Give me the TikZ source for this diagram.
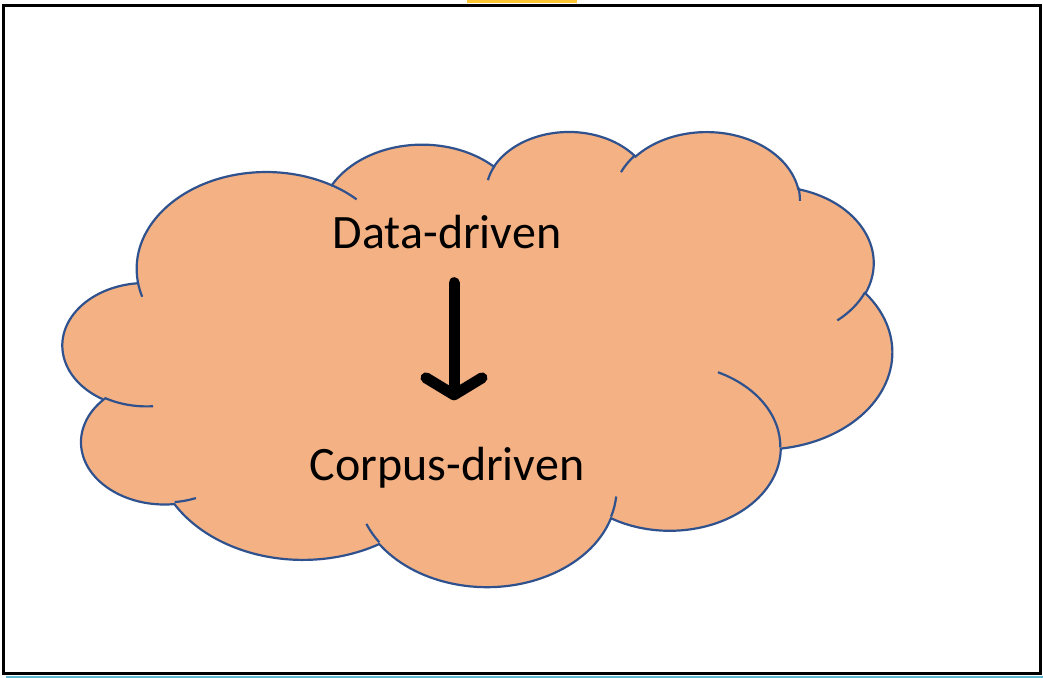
\documentclass[tikz,border=0pt]{standalone}
\usepackage{fontspec}
\setmainfont{Carlito}
\usetikzlibrary{arrows.meta}

\definecolor{cloudfill}{HTML}{F4B183}
\definecolor{cloudline}{HTML}{2F528F}
\definecolor{tabgold}{HTML}{FFC532}
\definecolor{rulecyan}{HTML}{5BB8D0}

% Elliptic arc whose start angle and sweep are visual angles
% (the ray from the centre), converted to parametric angles.
\newcommand\cldarc[4]{%
  \pgfextra{%
    \pgfmathsetmacro\cldda{atan2((#1)*sin(#3),(#2)*cos(#3))-(#3)}%
    \pgfmathsetmacro\cldsa{(#3)+\cldda-360*round(\cldda/360)}%
    \pgfmathsetmacro\clddb{atan2((#1)*sin((#3)+(#4)),(#2)*cos((#3)+(#4)))-((#3)+(#4))}%
    \pgfmathsetmacro\cldea{(#3)+(#4)+\clddb-360*round(\clddb/360)}%
    \global\let\cldsa\cldsa
    \global\let\cldea\cldea
  }%
  arc[start angle=\cldsa, end angle=\cldea, x radius=#1, y radius=#2]%
}

\tikzset{
  cloudedge/.style={draw=cloudline, line width=1.25pt},
  lbl/.style={inner sep=0pt, font=\fontsize{27.3}{32}\selectfont, text=black},
  conn/.style={line width=0.22cm, line cap=round, black,
    -{Straight Barb[length=0.34cm, width=1.12cm, round]}},
}

\begin{document}
\begin{tikzpicture}[x={(0.02cm,0)}, y={(0,-0.02cm)}]
  % canvas
  \fill[white] (0,0) rectangle (1043,678);
  \useasboundingbox (0,0) rectangle (1043,678);

  % slide fragments around the frame
  \fill[tabgold] (467,0) rectangle (577,3.5);
  \draw[rulecyan, line width=0.04cm] (6,676.8) -- (1043,676.8);

  % frame
  \draw[black, line width=0.06cm] (3.3,5.5) rectangle (1040.3,673.2);

  % cloud outline (43200-unit shape, coordinates divided by 100)
  \begin{scope}[shift={(63,130.5)}, xscale=1.91898, yscale=1.05324]
    \path[fill=cloudfill, cloudedge]
      (39.00,143.70)
      \cldarc{67.53}{91.90}{-190.48748}{123.78053}
      \cldarc{53.33}{72.67}{-144.10238}{89.94523}
      \cldarc{43.65}{59.45}{-145.80792}{99.72302}
      \cldarc{48.57}{65.95}{-130.98607}{117.24173}
      \cldarc{53.33}{72.73}{-78.70888}{109.02692}
      \cldarc{67.75}{92.20}{-46.26725}{130.269}
      \cldarc{57.85}{78.67}{0.62502}{114.03333}
      \cldarc{67.52}{92.15}{22.4516}{115.17255}
      \cldarc{77.20}{105.43}{66.24263}{75.71102}
      \cldarc{43.60}{59.18}{-274.94208}{146.73557}
      \cldarc{43.45}{59.45}{-246.8285}{152.51885}
      -- cycle;
    % inner creases between the puffs
    \path[cloudedge]
      (46.93,261.77)  \cldarc{43.45}{59.45}{86.742}{26.4295}
      (69.28,348.99)  \cldarc{43.60}{59.18}{73.6105}{11.4475}
      (164.78,390.90) \cldarc{67.52}{92.15}{137.6242}{14.0811}
      (288.27,347.51) \cldarc{67.52}{92.15}{6.4533}{15.9984}
      (341.29,229.54) \cldarc{57.85}{78.67}{-70.2924}{70.9174}
      (417.98,153.54) \cldarc{53.33}{72.73}{30.3180}{27.7515}
      (383.24,54.26)  \cldarc{48.57}{65.95}{-13.7443}{14.8589}
      (290.78,39.52)  \cldarc{48.57}{65.95}{-149.1815}{18.1954}
      (221.41,47.20)  \cldarc{43.65}{59.45}{-163.4943}{17.6864}
      (140.00,51.92)  \cldarc{67.53}{91.90}{-66.7070}{12.3194}
      (41.27,157.89)  \cldarc{67.53}{91.90}{157.6544}{11.8582};
  \end{scope}

  % labels
  \node[lbl, anchor=base] (data) at (447,249) {Data-driven};
  \node[lbl, anchor=base] (corpus) at (447,480) {Corpus-driven};

  % arrow between the labels
  \draw[conn, shorten <=0.66cm, shorten >=0.92cm]
    ([xshift=0.14cm]data.south) -- ([xshift=0.14cm]corpus.north);
\end{tikzpicture}
\end{document}
